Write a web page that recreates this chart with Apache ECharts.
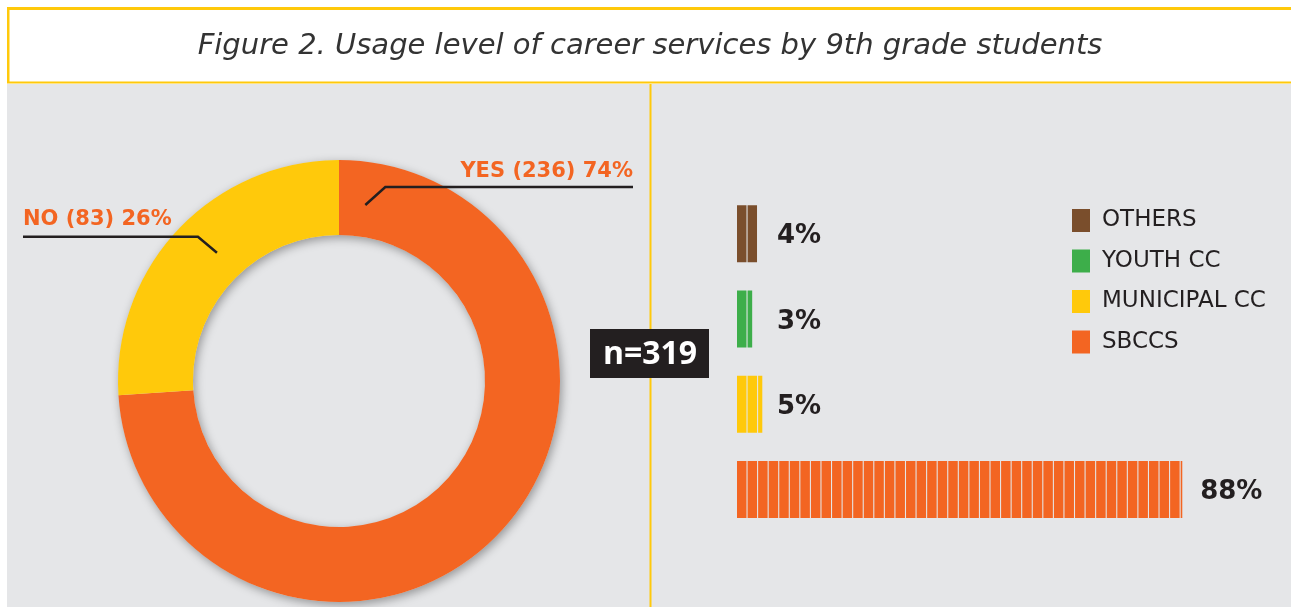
<!DOCTYPE html>
<html>
<head>
<meta charset="utf-8">
<script src="https://cdn.jsdelivr.net/npm/echarts@6/dist/echarts.min.js"></script>
<style>
html,body{margin:0;padding:0;background:#fff;overflow:hidden;}
#c{width:1291px;height:607px;}
</style>
</head>
<body>
<div id="c"></div>
<script>
// ---- data ----
const titleText = 'Figure 2. Usage level of career services by 9th grade students';
const pieNames = ['YES', 'NO'];
const pieCounts = [236, 83];
const piePercents = [74, 26];
const totalN = 319;
const barCategories = ['OTHERS', 'YOUTH CC', 'MUNICIPAL CC', 'SBCCS'];
const barValues = [4, 3, 5, 88];

// ---- style ----
const ORANGE = '#F36522', YELLOW = '#FFC90B', BROWN = '#7A4E2C', GREEN = '#3DAE4A';
const GRAY = '#E5E6E8', DARK = '#231F20';
const barColors = [BROWN, GREEN, YELLOW, ORANGE];
const pieColors = [ORANGE, YELLOW];
const FONT = '"DejaVu Sans", "Noto Sans", sans-serif';
const FONT2 = '"Open Sans", "Noto Sans", sans-serif';

const CX = 339, CY = 381, R_IN = 146, R_OUT = 221;

const chart = echarts.init(document.getElementById('c'), null, {renderer: 'canvas'});

function polar(deg, r) { // deg clockwise from top
  const a = deg * Math.PI / 180;
  return [CX + r * Math.sin(a), CY - r * Math.cos(a)];
}

const barSeries = barCategories.map((name, i) => ({
  name: name,
  type: 'pictorialBar',
  symbol: 'rect',
  symbolRepeat: true,
  symbolClip: true,
  symbolSize: [9.5, 57],
  symbolMargin: 0.55,
  barWidth: 57,
  barGap: '-100%',
  itemStyle: {color: barColors[i]},
  label: {
    show: true,
    position: barValues[i] < 20 ? [40, '50%'] : 'right',
    distance: 10,
    offset: [0, 3],
    verticalAlign: 'middle',
    formatter: '{c}%',
    fontFamily: FONT,
    fontSize: 26,
    fontWeight: 'bold',
    color: DARK
  },
  data: barCategories.map((c, j) => j === i ? barValues[j] : '-'),
  z: 3
}));

const option = {
  backgroundColor: '#fff',
  animation: false,
  graphic: [
    {type: 'rect', shape: {x: 7, y: 84, width: 1290, height: 530}, style: {fill: GRAY}, z: -10},
    {type: 'rect', shape: {x: 7, y: 7, width: 1290, height: 3}, style: {fill: YELLOW}, z: -9},
    {type: 'rect', shape: {x: 7, y: 7, width: 2.5, height: 76}, style: {fill: YELLOW}, z: -9},
    {type: 'rect', shape: {x: 7, y: 81.5, width: 1290, height: 2}, style: {fill: YELLOW}, z: -9},
    {type: 'rect', shape: {x: 649.5, y: 84, width: 2, height: 530}, style: {fill: YELLOW}, z: -9},
    {type: 'text', x: 650, y: 46, style: {text: titleText, fill: '#333', font: 'oblique 29px ' + FONT, textAlign: 'center', textVerticalAlign: 'middle'}},
    {type: 'group', x: 650, y: 353.5, z: 20, children: [
      {type: 'rect', shape: {x: -60, y: -24.5, width: 119, height: 49}, style: {fill: DARK}},
      {type: 'text', x: 0, y: 1, style: {text: 'n=' + totalN, fill: '#fff', font: 'bold 32px ' + FONT2, textAlign: 'center', textVerticalAlign: 'middle'}}
    ]}
  ],
  legend: {
    orient: 'vertical',
    left: 1067,
    top: 204,
    icon: 'rect',
    itemWidth: 18,
    itemHeight: 23,
    itemGap: 17.5,
    data: barCategories,
    textStyle: {fontFamily: FONT, fontSize: 23, color: DARK, padding: [0, 0, 0, 7]},
    selectedMode: false
  },
  grid: {left: 737, width: 506, top: 191, height: 341},
  xAxis: {type: 'value', min: 0, max: 100, show: false},
  yAxis: {type: 'category', data: barCategories, inverse: true, show: false},
  series: [
    {
      type: 'pie',
      silent: true,
      center: [CX, CY],
      radius: [R_IN, R_OUT],
      startAngle: 90,
      label: {show: false},
      labelLine: {show: false},
      itemStyle: {color: '#ddd', shadowBlur: 10, shadowColor: 'rgba(0,0,0,0.35)', shadowOffsetX: 2, shadowOffsetY: 3},
      data: [{value: 1, name: '_shadow'}],
      z: 1
    },
    {
      type: 'pie',
      center: [CX, CY],
      radius: [R_IN, R_OUT],
      startAngle: 90,
      clockwise: true,
      data: pieNames.map((n, i) => ({name: n, value: pieCounts[i], itemStyle: {color: pieColors[i]}})),
      label: {show: false},
      labelLine: {show: false},
      z: 2
    },
    {
      type: 'pie',
      silent: true,
      center: [CX, CY],
      radius: [R_IN, R_OUT],
      startAngle: 90,
      clockwise: true,
      data: pieNames.map((n, i) => ({name: n, value: pieCounts[i], itemStyle: {color: 'rgba(0,0,0,0)'}})),
      label: {
        show: true,
        overflow: 'none',
        formatter: p => p.name + ' (' + pieCounts[p.dataIndex] + ') ' + piePercents[p.dataIndex] + '%',
        fontFamily: FONT,
        fontSize: 21,
        fontWeight: 'bold',
        color: ORANGE
      },
      labelLine: {show: true, lineStyle: {color: DARK, width: 2.5}},
      labelLayout: function (p) {
        if (p.dataIndex === 0) {
          const s = polar(8.5, 178);
          const k = [s[0] + 20, s[1] - 18];
          const e = [633, k[1]];
          return {x: e[0], y: k[1] - 15, align: 'right', verticalAlign: 'middle', labelLinePoints: [s, k, e]};
        } else {
          const s = polar(-43.6, 177);
          const k = [s[0] - 19, s[1] - 16];
          const e = [23, k[1]];
          return {x: e[0], y: k[1] - 17, align: 'left', verticalAlign: 'middle', labelLinePoints: [s, k, e]};
        }
      },
      z: 5
    }
  ].concat(barSeries)
};
chart.setOption(option);
</script>
</body>
</html>
